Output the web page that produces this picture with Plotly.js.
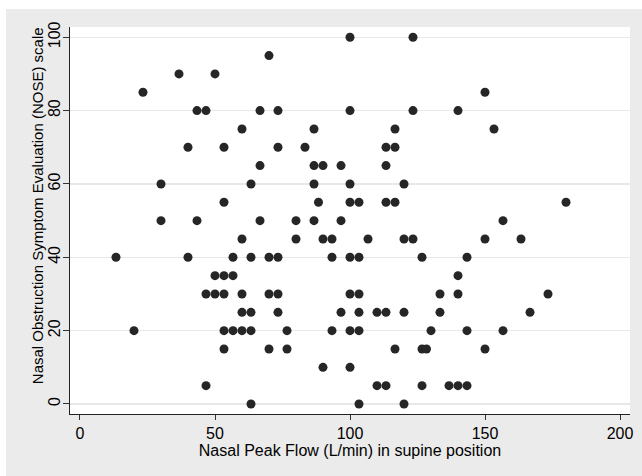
<!DOCTYPE html>
<html>
<head>
<meta charset="utf-8">
<script src="https://cdn.plot.ly/plotly-3.0.1.min.js"></script>
<style>html,body{margin:0;padding:0;background:#fff;}#chart{width:642px;height:476px;}</style>
</head>
<body>
<div id="chart"></div>
<script>
// Nasal Peak Flow (L/min) in supine position, listed row by row of NOSE score
var peakFlow = [
  100, 123.33,
  70,
  36.67, 50,
  23.33, 150,
  43.33, 46.67, 66.67, 73.33, 100, 123.33, 140,
  60, 86.67, 116.67, 153.33,
  40, 53.33, 73.33, 83.33, 113.33, 116.67,
  66.67, 86.67, 90, 96.67, 113.33,
  30, 63.33, 86.67, 100, 120,
  53.33, 88.33, 100, 103.33, 113.33, 116.67, 180,
  30, 43.33, 66.67, 80, 86.67, 96.67, 156.67,
  60, 80, 90, 93.33, 106.67, 120, 123.33, 150, 163.33,
  13.33, 40, 56.67, 63.33, 70, 73.33, 93.33, 100, 103.33, 126.67, 143.33,
  50, 53.33, 56.67, 140,
  46.67, 50, 53.33, 60, 70, 73.33, 100, 103.33, 133.33, 140, 173.33,
  60, 63.33, 73.33, 96.67, 103.33, 110, 113.33, 120, 133.33, 166.67,
  20, 53.33, 56.67, 60, 63.33, 76.67, 93.33, 100, 103.33, 130, 143.33, 156.67,
  53.33, 70, 76.67, 116.67, 126.67, 128.33, 150,
  90, 100,
  46.67, 110, 113.33, 126.67, 136.67, 140, 143.33,
  63.33, 103.33, 120
];
// NOSE scale value for each point above
var noseScore = [
  100, 100,
  95,
  90, 90,
  85, 85,
  80, 80, 80, 80, 80, 80, 80,
  75, 75, 75, 75,
  70, 70, 70, 70, 70, 70,
  65, 65, 65, 65, 65,
  60, 60, 60, 60, 60,
  55, 55, 55, 55, 55, 55, 55,
  50, 50, 50, 50, 50, 50, 50,
  45, 45, 45, 45, 45, 45, 45, 45, 45,
  40, 40, 40, 40, 40, 40, 40, 40, 40, 40, 40,
  35, 35, 35, 35,
  30, 30, 30, 30, 30, 30, 30, 30, 30, 30, 30,
  25, 25, 25, 25, 25, 25, 25, 25, 25, 25,
  20, 20, 20, 20, 20, 20, 20, 20, 20, 20, 20, 20,
  15, 15, 15, 15, 15, 15, 15,
  10, 10,
  5, 5, 5, 5, 5, 5, 5,
  0, 0, 0
];
var xTicks = [0, 50, 100, 150, 200];
var yTicks = [0, 20, 40, 60, 80, 100];
var xTitle = 'Nasal Peak Flow (L/min) in supine position';
var yTitle = 'Nasal Obstruction Symptom Evaluation (NOSE) scale';

var font = {family: 'Liberation Sans, Arial, sans-serif', size: 16, color: '#000'};
var yTitleFont = {family: 'Liberation Sans, Arial, sans-serif', size: 15, color: '#000'};

var trace = {
  x: peakFlow,
  y: noseScore,
  type: 'scatter',
  mode: 'markers',
  marker: {color: '#262626', size: 9, line: {width: 0}},
  hoverinfo: 'skip'
};

var layout = {
  width: 642,
  height: 476,
  margin: {l: 70, r: 12, t: 27, b: 62, pad: 0},
  paper_bgcolor: '#ebebeb',
  plot_bgcolor: '#ffffff',
  font: font,
  showlegend: false,
  xaxis: {
    range: [-3.7, 203.7],
    tickvals: xTicks,
    ticktext: xTicks.map(String),
    ticks: 'outside',
    ticklen: 5,
    tickcolor: '#333',
    tickwidth: 1,
    showline: true,
    linecolor: '#222',
    linewidth: 1,
    showgrid: false,
    zeroline: false,
    tickfont: font,
    title: {text: xTitle, font: font, standoff: 0}
  },
  yaxis: {
    range: [-2.73, 102.8],
    tickvals: yTicks,
    ticktext: yTicks.map(String),
    tickangle: -90,
    ticks: 'outside',
    ticklen: 6,
    tickcolor: '#333',
    tickwidth: 1,
    ticklabelstandoff: -3,
    showline: true,
    linecolor: '#222',
    linewidth: 1,
    showgrid: true,
    gridcolor: '#e8e8e8',
    gridwidth: 1.5,
    zeroline: false,
    tickfont: font
  },
  annotations: [
    {text: yTitle, xref: 'paper', yref: 'paper', x: -0.0589, y: 0.537,
     xanchor: 'center', yanchor: 'middle', textangle: -90, showarrow: false, font: yTitleFont}
  ],
  shapes: [
    {type: 'rect', xref: 'paper', yref: 'paper', x0: -0.2, x1: 1.1, y0: 1.0465, y1: 1.2,
     fillcolor: '#ffffff', line: {width: 0}, layer: 'below'},
    {type: 'rect', xref: 'paper', yref: 'paper', x0: -0.2, x1: -0.1143, y0: -0.2, y1: 1.2,
     fillcolor: '#ffffff', line: {width: 0}, layer: 'below'}
  ]
};

Plotly.newPlot('chart', [trace], layout, {displayModeBar: false, staticPlot: true});
</script>
</body>
</html>
